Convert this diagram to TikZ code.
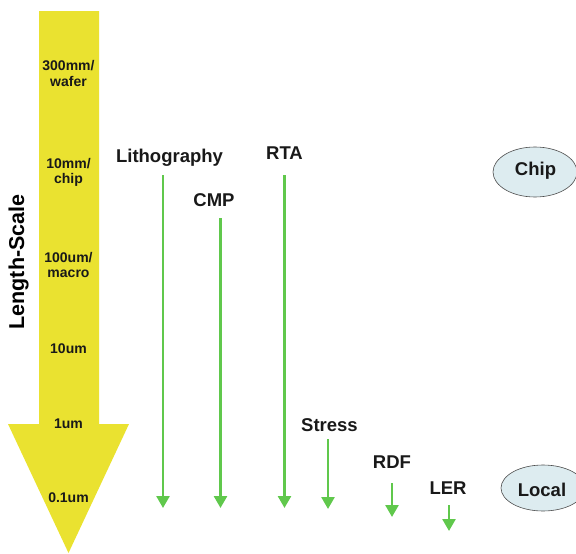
\documentclass[tikz,border=0pt]{standalone}
\usepackage{fontspec}
\setmainfont{Liberation Sans}
\usetikzlibrary{arrows.meta,shapes.geometric}
\definecolor{scaleyellow}{RGB}{234,226,48}
\definecolor{procgreen}{RGB}{96,200,76}
\definecolor{ovalfill}{RGB}{221,236,240}
\tikzset{
  scalelbl/.style={font=\bfseries\fontsize{14}{15}\selectfont, anchor=base, inner sep=0pt, text=black!90},
  proclbl/.style={font=\bfseries\fontsize{18.5}{20}\selectfont, anchor=base, inner sep=0pt, text=black!90},
  procarrow/.style={draw=procgreen, line width=2.6pt, -{Triangle[width=13pt,length=12pt]}},
  oval/.style={ellipse, draw=black!70, line width=0.6pt, fill=ovalfill, minimum width=84pt, minimum height=50pt, inner sep=0pt},
  ovallbl/.style={font=\bfseries\fontsize{18.5}{20}\selectfont, text=black!90}
}
\begin{document}
\begin{tikzpicture}[x=1pt,y=-1pt]
\useasboundingbox (0,0) rectangle (576,554);
% big yellow arrow
\fill[scaleyellow] (39,11) -- (99,11) -- (99,424) -- (129,424) -- (68.5,553) -- (8,424) -- (39,424) -- cycle;
\node[scalelbl] (s1a) at (68.5,70) {300mm/};
\node[scalelbl] (s1b) at (68.5,86) {wafer};
\node[scalelbl] (s2a) at (68.5,168) {10mm/};
\node[scalelbl] (s2b) at (68.5,183) {chip};
\node[scalelbl] (s3a) at (68.5,262) {100um/};
\node[scalelbl] (s3b) at (68.5,277) {macro};
\node[scalelbl] (s4) at (68.5,353) {10um};
\node[scalelbl] (s5) at (68.5,428) {1um};
\node[scalelbl] (s6) at (68.5,502) {0.1um};
\node[font=\bfseries\fontsize{21.5}{23}\selectfont, rotate=90, anchor=base, inner sep=0pt] (ls) at (24,262) {Length-Scale};
% process labels
\node[proclbl] (litho) at (169.5,162) {Lithography};
\node[proclbl] (cmp) at (214,206) {CMP};
\node[proclbl] (rta) at (284.5,159) {RTA};
\node[proclbl] (stress) at (329.5,431) {Stress};
\node[proclbl] (rdf) at (392,468) {RDF};
\node[proclbl] (ler) at (448,494) {LER};
% arrow end points
\coordinate (lithoT) at (163,175);   \coordinate (lithoB) at (163,508);
\coordinate (cmpT) at (220.5,218);   \coordinate (cmpB) at (220.5,508);
\coordinate (rtaT) at (284.5,175);   \coordinate (rtaB) at (284.5,508);
\coordinate (stressT) at (328,439);  \coordinate (stressB) at (328,509);
\coordinate (rdfT) at (392,483);     \coordinate (rdfB) at (392,517);
\coordinate (lerT) at (449,505);     \coordinate (lerB) at (449,531);
\draw[procarrow] (lithoT) -- (lithoB);
\draw[procarrow] (cmpT) -- (cmpB);
\draw[procarrow] (rtaT) -- (rtaB);
\draw[procarrow] (stressT) -- (stressB);
\draw[procarrow] (rdfT) -- (rdfB);
\draw[procarrow] (lerT) -- (lerB);
% ovals
\node[oval] (chip) at (535,172) {};
\node[ovallbl] (chipt) at (535.5,171) {Chip};
\node[oval, minimum height=46pt] (local) at (543,488) {};
\node[ovallbl] (localt) at (542,490) {Local};
\end{tikzpicture}
\end{document}
